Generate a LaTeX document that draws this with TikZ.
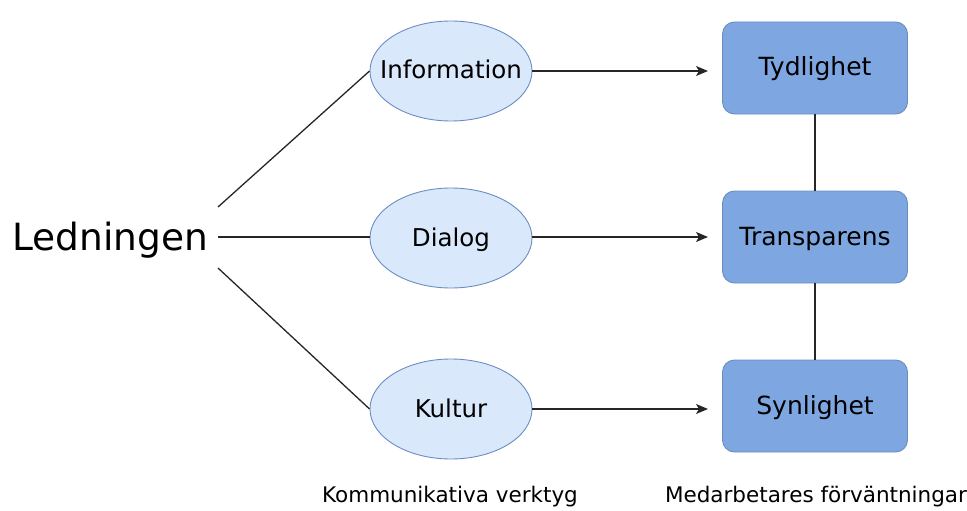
\documentclass[tikz,border=0pt]{standalone}
\usepackage{fontspec}
\setmainfont{DejaVu Sans}
\usetikzlibrary{arrows.meta,shapes.geometric}
\newcommand{\ctext}[1]{\makebox[0pt]{\raisebox{-8pt}[0pt][0pt]{#1}}}
\begin{document}
\begin{tikzpicture}[x=1pt,y=-1pt,
  tool/.style={ellipse,draw=ellblue,fill=ellfill,line width=0.9pt,minimum width=162pt,minimum height=100pt,inner sep=0pt,font=\fontsize{24.5}{28}\selectfont},
  expect/.style={rectangle,rounded corners=12pt,draw=ellblue,fill=boxfill,line width=0.9pt,minimum width=185pt,minimum height=92pt,inner sep=0pt,font=\fontsize{25}{29}\selectfont},
  conn/.style={line width=1.3pt,draw=black!85},
  arr/.style={conn,-{Stealth[length=12pt,width=10pt,inset=3pt]}},
  caption/.style={font=\fontsize{21.5}{25}\selectfont}]
\definecolor{ellblue}{HTML}{6C8EBF}
\definecolor{ellfill}{HTML}{DAE8FC}
\definecolor{boxfill}{HTML}{7EA6E0}
\useasboundingbox (0,0) rectangle (967,511);
\node[font=\fontsize{37.5}{42}\selectfont] (led) at (110,240) {Ledningen};
\coordinate (l1) at (218,207);
\coordinate (l2) at (218,237);
\coordinate (l3) at (218,268);
\node[tool] (info) at (451,71) {\ctext{Information}};
\node[tool] (dia) at (451,238) {\ctext{Dialog}};
\node[tool] (kul) at (451,409) {\ctext{Kultur}};
\node[expect] (tyd) at (815,68) {\ctext{Tydlighet}};
\node[expect] (tra) at (815,237) {\ctext{Transparens}};
\node[expect] (syn) at (815,406) {\ctext{Synlighet}};
\draw[conn] (l1) -- (info.west);
\draw[conn] (l2) -- (l2 -| dia.west);
\draw[conn] (l3) -- (kul.west);
\coordinate (t1) at (708,71);
\coordinate (t2) at (708,237);
\coordinate (t3) at (708,409);
\draw[arr] (info.east) -- (t1);
\draw[arr] (t2 -| dia.east) -- (t2);
\draw[arr] (kul.east) -- (t3);
\draw[conn] (tyd.south) -- (tra.north);
\draw[conn] (tra.south) -- (syn.north);
\node[caption] (c1) at (450,497) {Kommunikativa verktyg};
\node[caption] (c2) at (816,497) {Medarbetares förväntningar};
\end{tikzpicture}
\end{document}
